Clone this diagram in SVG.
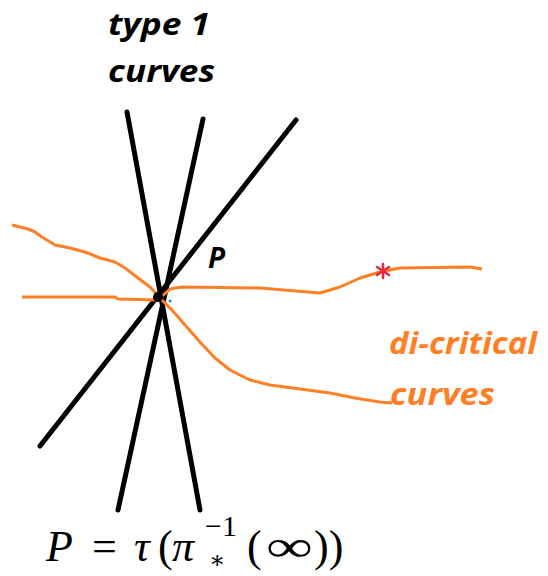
<svg xmlns="http://www.w3.org/2000/svg" width="548" height="576" viewBox="0 0 548 576">
<style>
.blk{stroke:#000;stroke-width:5;fill:none;stroke-linecap:round}
.org{stroke:#ff7f27;stroke-width:3;fill:none;stroke-linejoin:round}
.lbl{font-family:"Open Sans","Liberation Sans",sans-serif;font-weight:bold;font-style:italic;font-size:31px}
.math{font-family:"Liberation Serif","DejaVu Serif",serif;font-size:44px;fill:#000}
.it{font-style:italic}
</style>
<rect width="548" height="576" fill="#fff"/>
<g id="connectors">
<line class="blk" x1="127" y1="112" x2="200" y2="510"/>
<line class="blk" x1="203" y1="119" x2="118" y2="510"/>
<line class="blk" x1="296" y1="120" x2="40" y2="446"/>
<path class="org" d="M12,225 L28,229 L35,232 L42,237 L55,245 L70,248 L85,252 L100,258 L115,262 L125,268 L138,278 L150,287 L160,298"/>
<path class="org" d="M22,297 L115,297 L118,299 L158,300"/>
<path class="org" d="M160,298 L170,289 L182,287 L260,288 L320,293 L340,287 L360,278 L380,272 L400,268 L470,267 L482,269"/>
<path class="org" d="M160,298 L172,310 L185,325 L200,342 L215,358 L230,370 L250,380 L270,385 L300,389 L330,393 L355,398 L380,402 L392,403"/>
</g>
<g id="center">
<circle cx="158" cy="297" r="5" fill="#000"/>
<circle cx="170" cy="301" r="1.5" fill="#3a7bd5"/>
</g>
<g id="star" stroke="#e8283c" stroke-width="2.5" stroke-linecap="round">
<line x1="383" y1="264" x2="383" y2="278"/>
<line x1="377" y1="267" x2="389" y2="275"/>
<line x1="377" y1="275" x2="389" y2="267"/>
</g>
<g id="type1">
<text class="lbl" x="108" y="35" textLength="102" lengthAdjust="spacingAndGlyphs" fill="#000">type 1</text>
<text class="lbl" x="108" y="82" textLength="107" lengthAdjust="spacingAndGlyphs" fill="#000">curves</text>
</g>
<g id="P">
<text class="lbl" x="208" y="268" style="font-size:28px" fill="#000">P</text>
</g>
<g id="dicritical">
<text class="lbl" x="389" y="354" textLength="148" lengthAdjust="spacingAndGlyphs" fill="#ff7f27">di-critical</text>
<text class="lbl" x="390" y="405" textLength="105" lengthAdjust="spacingAndGlyphs" fill="#ff7f27">curves</text>
</g>
<g id="formula">
<text class="math it" x="46" y="561">P</text>
<text class="math" x="92" y="561">=</text>
<text class="math it" x="134" y="561">τ</text>
<text class="math" x="158" y="561">(</text>
<text class="math it" x="172" y="561">π</text>
<text class="math" x="205" y="536" style="font-size:30px">−1</text>
<text class="math" x="209" y="568" style="font-size:24px">∗</text>
<text class="math" x="247" y="561">(</text>
<text class="math" x="266" y="561" textLength="47" lengthAdjust="spacingAndGlyphs">∞</text>
<text class="math" x="314" y="561">))</text>
</g>
</svg>
